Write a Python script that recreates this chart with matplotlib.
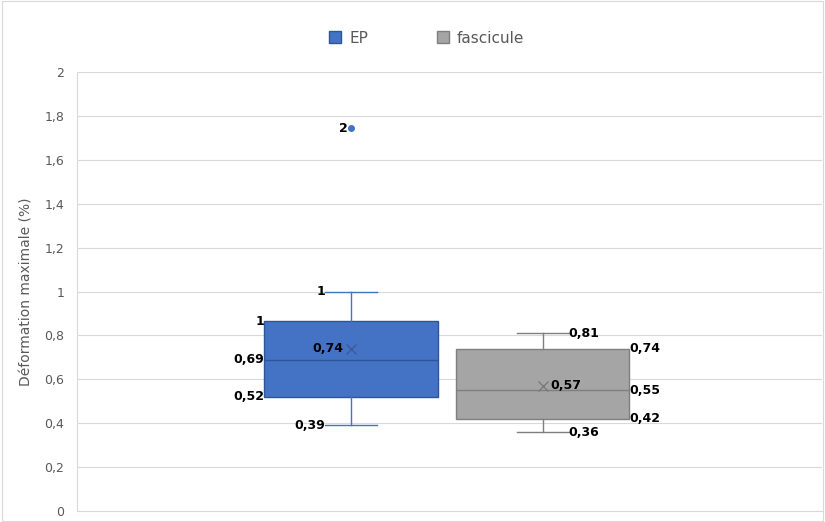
import matplotlib
matplotlib.use("Agg")
import matplotlib.pyplot as plt
from matplotlib.patches import Patch, Rectangle
from matplotlib.ticker import FuncFormatter

series = ["EP", "fascicule"]
q1 = [0.52, 0.42]
median = [0.69, 0.55]
q3 = [0.865, 0.74]
whisker_low = [0.39, 0.36]
whisker_high = [1.0, 0.81]
mean = [0.74, 0.57]
outliers = [[1.745], []]

# labels shown on the chart (Excel style)
lab_q1 = ["0,52", "0,42"]
lab_med = ["0,69", "0,55"]
lab_q3 = ["1", "0,74"]
lab_lo = ["0,39", "0,36"]
lab_hi = ["1", "0,81"]
lab_mean = ["0,74", "0,57"]
lab_out = [["2"], []]

face = ["#4472C4", "#A5A5A5"]
edge = ["#2F5597", "#7F7F7F"]
positions = [-0.264, 0.251]
width = 0.465

fig = plt.figure(figsize=(8.25, 5.22), dpi=100)
ax = fig.add_axes([0.0933, 0.021, 0.9027, 0.841])

stats = []
for i in range(len(series)):
    stats.append(dict(med=median[i], q1=q1[i], q3=q3[i], whislo=whisker_low[i],
                      whishi=whisker_high[i], mean=mean[i], fliers=outliers[i], label=series[i]))

for i, st in enumerate(stats):
    ax.bxp([st], positions=[positions[i]], widths=width, capwidths=0.14,
           showmeans=True, patch_artist=True, manage_ticks=False,
           boxprops=dict(facecolor=face[i], edgecolor=edge[i], linewidth=1),
           medianprops=dict(color=edge[i], linewidth=1),
           whiskerprops=dict(color=edge[i] if i else face[i], linewidth=1),
           capprops=dict(color=edge[i] if i else face[i], linewidth=1),
           meanprops=dict(marker="x", markeredgecolor="#7a7a7a" if i else "#3b5a99",
                          markersize=7, markeredgewidth=1),
           flierprops=dict(marker="o", markerfacecolor=face[i], markeredgecolor=face[i],
                           markersize=4))

cap_half = 0.07
tk = dict(fontsize=9, fontweight="bold", color="black", va="center")
# EP: labels on left side
p, h = positions[0], width / 2
ax.text(p - cap_half, whisker_high[0], lab_hi[0], ha="right", **tk)
ax.text(p - h, q3[0], lab_q3[0], ha="right", **tk)
ax.text(p - h, median[0], lab_med[0], ha="right", **tk)
ax.text(p - h, q1[0], lab_q1[0], ha="right", **tk)
ax.text(p - cap_half, whisker_low[0], lab_lo[0], ha="right", **tk)
ax.text(p - 0.02, mean[0], lab_mean[0], ha="right", **tk)
for v, l in zip(outliers[0], lab_out[0]):
    ax.text(p - 0.01, v, l, ha="right", **tk)
# fascicule: labels on right side
p = positions[1]
ax.text(p + cap_half, whisker_high[1], lab_hi[1], ha="left", **tk)
ax.text(p + h, q3[1], lab_q3[1], ha="left", **tk)
ax.text(p + h, median[1], lab_med[1], ha="left", **tk)
ax.text(p + h, q1[1], lab_q1[1], ha="left", **tk)
ax.text(p + cap_half, whisker_low[1], lab_lo[1], ha="left", **tk)
ax.text(p + 0.02, mean[1], lab_mean[1], ha="left", **tk)

ax.set_xlim(-1, 1)
ax.set_ylim(0, 2)
ax.set_yticks([i * 0.2 for i in range(11)])
ax.yaxis.set_major_formatter(FuncFormatter(lambda v, _: ("%g" % round(v, 1)).replace(".", ",")))
ax.set_xticks([])
ax.tick_params(axis="y", length=0, labelsize=9, labelcolor="#595959", pad=9)
ax.grid(axis="y", color="#D9D9D9", linewidth=0.8)
ax.set_axisbelow(True)
for s in ["top", "right"]:
    ax.spines[s].set_visible(False)
for s in ["left", "bottom"]:
    ax.spines[s].set_color("#D9D9D9")
ax.set_ylabel("Déformation maximale (%)", fontsize=10, color="#595959", labelpad=8)

handles = [Patch(facecolor=face[i], edgecolor=edge[i]) for i in range(2)]
fig.legend(handles, series, loc="center", bbox_to_anchor=(0.517, 0.927), ncol=2, frameon=False,
           fontsize=11, labelcolor="#595959", handlelength=0.8, handleheight=0.8,
           columnspacing=4.5, handletextpad=0.5)

fig.patches.append(Rectangle((0.002, 0.002), 0.996, 0.996, transform=fig.transFigure,
                             fill=False, edgecolor="#D9D9D9", linewidth=0.8))

fig.savefig("out.png", dpi=100)
